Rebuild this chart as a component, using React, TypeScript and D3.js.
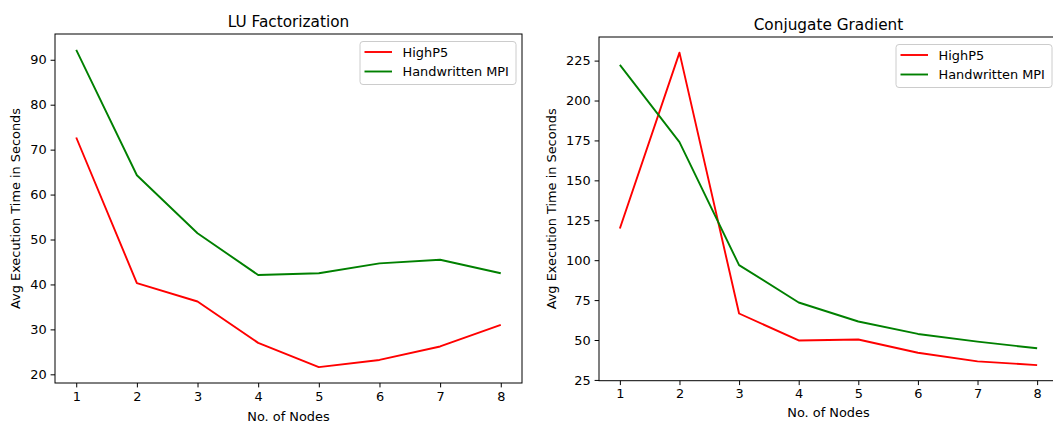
import React, { useEffect, useRef } from "react";
import * as d3 from "d3";

// number of nodes on the x axis
const nodes = [1, 2, 3, 4, 5, 6, 7, 8];

// LU Factorization, avg execution time in seconds
const luHighP5 = [72.7, 40.3, 36.2, 27.0, 21.6, 23.2, 26.2, 31.0];
const luMpi = [92.2, 64.3, 51.4, 42.1, 42.5, 44.7, 45.5, 42.5];
const luTicks = [20, 30, 40, 50, 60, 70, 80, 90];

// Conjugate Gradient, avg execution time in seconds
const cgHighP5 = [119.8, 230.0, 66.6, 49.7, 50.3, 42.0, 36.6, 34.3];
const cgMpi = [222.3, 173.9, 96.9, 73.5, 61.6, 53.8, 49.0, 44.8];
const cgTicks = [25, 50, 75, 100, 125, 150, 175, 200, 225];

const seriesNames = ["HighP5", "Handwritten MPI"];
const seriesColors = ["#ff0000", "#008000"];

const FONT = "DejaVu Sans, sans-serif";
const SMALL = "12.9px";

function drawPanel(svg, opts) {
  const { left, right, top, bottom, title, titleY, labelX, xLabelY, a, b, yTicks } = opts;

  const x = d3.scaleLinear().domain([0.65, 8.35]).range([left, right]);
  const all = [...a, ...b];
  const lo = d3.min(all);
  const hi = d3.max(all);
  const pad = (hi - lo) * 0.05;
  const y = d3.scaleLinear().domain([lo - pad, hi + pad]).range([bottom, top]);

  const g = svg.append("g");

  // lines
  const line = d3
    .line()
    .x((d, i) => x(nodes[i]))
    .y((d) => y(d));

  [a, b].forEach((s, k) => {
    g.append("path")
      .datum(s)
      .attr("d", line)
      .attr("fill", "none")
      .attr("stroke", seriesColors[k])
      .attr("stroke-width", 1.9)
      .attr("stroke-linejoin", "round")
      .attr("stroke-linecap", "butt");
  });

  // axes
  const xa = g
    .append("g")
    .attr("transform", `translate(0,${bottom})`)
    .call(d3.axisBottom(x).tickValues(nodes).tickSize(4.4).tickPadding(4).tickFormat(d3.format("d")));
  const ya = g
    .append("g")
    .attr("transform", `translate(${left},0)`)
    .call(d3.axisLeft(y).tickValues(yTicks).tickSize(4.4).tickPadding(4).tickFormat(d3.format("d")));

  [xa, ya].forEach((ax) => {
    ax.select(".domain").remove();
    ax.selectAll("line").attr("stroke", "#000").attr("stroke-width", 1);
    ax.selectAll("text").attr("fill", "#000").style("font-family", FONT).style("font-size", SMALL);
  });

  // spines
  g.append("rect")
    .attr("x", left)
    .attr("y", top)
    .attr("width", right - left)
    .attr("height", bottom - top)
    .attr("fill", "none")
    .attr("stroke", "#000")
    .attr("stroke-width", 1);

  // title and labels
  g.append("text")
    .attr("x", (left + right) / 2)
    .attr("y", titleY)
    .attr("text-anchor", "middle")
    .style("font-family", FONT)
    .style("font-size", "15.3px")
    .text(title);

  g.append("text")
    .attr("x", (left + right) / 2)
    .attr("y", xLabelY)
    .attr("text-anchor", "middle")
    .style("font-family", FONT)
    .style("font-size", SMALL)
    .text("No. of Nodes");

  g.append("text")
    .attr("transform", `translate(${labelX},${(top + bottom) / 2}) rotate(-90)`)
    .attr("text-anchor", "middle")
    .style("font-family", FONT)
    .style("font-size", SMALL)
    .text("Avg Execution Time in Seconds");

  // legend
  const lw = 156;
  const lh = 43;
  const lx = right - 6 - lw;
  const ly = top + 7.5;
  const leg = g.append("g");
  leg.append("rect")
    .attr("x", lx)
    .attr("y", ly)
    .attr("width", lw)
    .attr("height", lh)
    .attr("rx", 3)
    .attr("fill", "#ffffff")
    .attr("fill-opacity", 0.8)
    .attr("stroke", "#cccccc")
    .attr("stroke-width", 1);
  seriesNames.forEach((name, k) => {
    const yy = ly + 10.5 + k * 19.5;
    leg.append("line")
      .attr("x1", lx + 4.5)
      .attr("x2", lx + 32)
      .attr("y1", yy)
      .attr("y2", yy)
      .attr("stroke", seriesColors[k])
      .attr("stroke-width", 1.9);
    leg.append("text")
      .attr("x", lx + 42.5)
      .attr("y", yy + 4.5)
      .style("font-family", FONT)
      .style("font-size", SMALL)
      .text(name);
  });
}

export default function App() {
  const ref = useRef(null);

  useEffect(() => {
    const svg = d3.select(ref.current);
    svg.selectAll("*").remove();

    drawPanel(svg, {
      left: 55,
      right: 522,
      top: 34,
      bottom: 383,
      title: "LU Factorization",
      titleY: 27,
      labelX: 20,
      xLabelY: 421,
      a: luHighP5,
      b: luMpi,
      yTicks: luTicks,
    });

    drawPanel(svg, {
      left: 599,
      right: 1058,
      top: 37,
      bottom: 380.7,
      title: "Conjugate Gradient",
      titleY: 30,
      labelX: 556,
      xLabelY: 417,
      a: cgHighP5,
      b: cgMpi,
      yTicks: cgTicks,
    });
  }, []);

  return (
    <svg
      ref={ref}
      width={1053}
      height={426}
      style={{ position: "absolute", left: 0, top: 0, background: "#fff" }}
    />
  );
}
